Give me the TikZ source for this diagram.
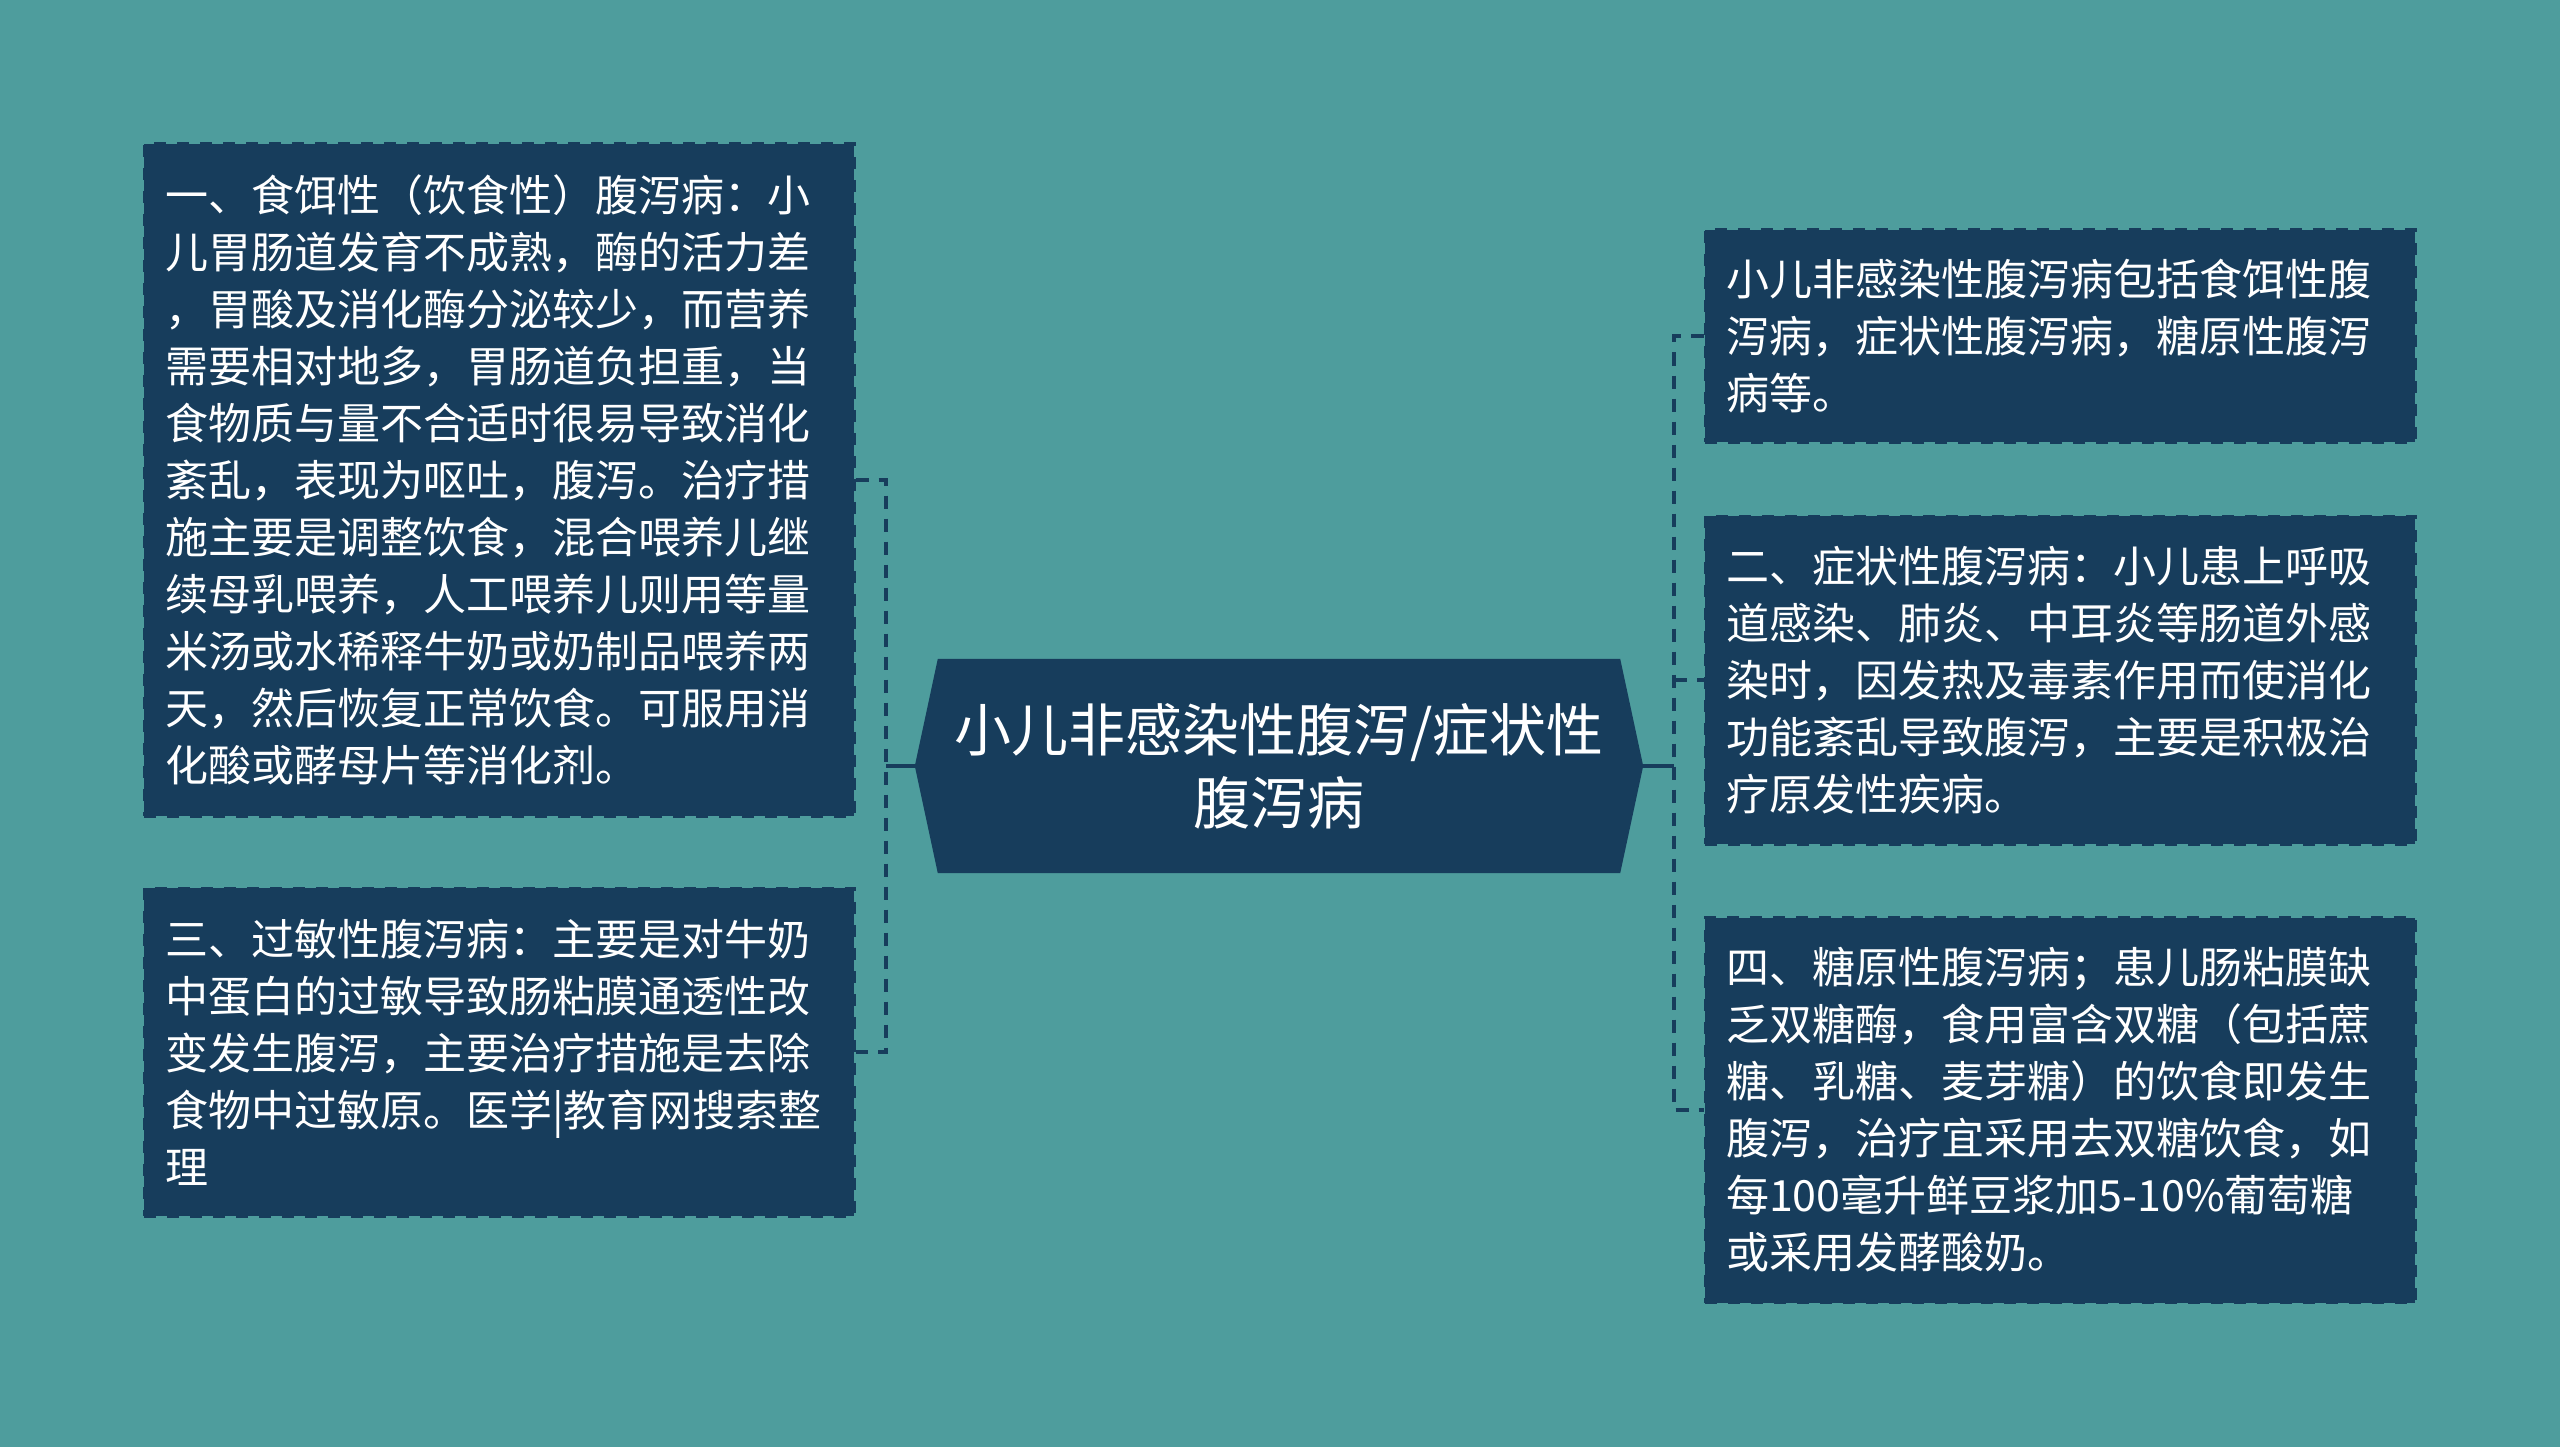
\documentclass[tikz,border=0pt]{standalone}
\usepackage{fontspec}
\setmainfont{Noto Sans CJK SC}
\usepackage{xcolor}
\usetikzlibrary{backgrounds}
\definecolor{bgteal}{RGB}{78,157,157}
\definecolor{navy}{RGB}{23,61,92}

\begin{document}
\begin{tikzpicture}[
        x=1pt, y=-1pt,
        box/.style={rectangle, fill=navy, draw=navy, line width=3pt, dash pattern=on 12pt off 11pt, text=white, align=left, inner xsep=21pt, inner ysep=0pt, text width=668pt, font=\fontsize{43}{57}\selectfont},
        hub/.style={rectangle, text=white, align=center, inner sep=0pt, minimum width=682pt, minimum height=214pt, font=\fontsize{57}{73}\selectfont},
        dashlink/.style={navy, line width=4.5pt, dash pattern=on 13pt off 10pt},
        link/.style={navy, line width=4.5pt}
    ]
        % Background
        \useasboundingbox (0,0) rectangle (2560,1447);
        \begin{scope}[on background layer]
            \fill[bgteal] (0,0) rectangle (2560,1447);
        \end{scope}

        % Central topic
        \node[hub] (hub) at (1279,766) {小儿非感染性腹泻/症状性\\腹泻病};
        \coordinate (hubW) at ([xshift=-23pt]hub.west);
        \coordinate (hubE) at ([xshift=23pt]hub.east);
        \begin{scope}[on background layer]
            \fill[navy] (hub.north west) -- (hub.north east) -- (hubE) -- (hub.south east) -- (hub.south west) -- (hubW) -- cycle;
        \end{scope}

        % Left branches
        \node[box, minimum height=672pt] (diet) at (499,480) {一、食饵性（饮食性）腹泻病：小\\儿胃肠道发育不成熟，酶的活力差\\，胃酸及消化酶分泌较少，而营养\\需要相对地多，胃肠道负担重，当\\食物质与量不合适时很易导致消化\\紊乱，表现为呕吐，腹泻。治疗措\\施主要是调整饮食，混合喂养儿继\\续母乳喂养，人工喂养儿则用等量\\米汤或水稀释牛奶或奶制品喂养两\\天，然后恢复正常饮食。可服用消\\化酸或酵母片等消化剂。};
        \node[box, minimum height=328pt] (allergy) at (499,1052) {三、过敏性腹泻病：主要是对牛奶\\中蛋白的过敏导致肠粘膜通透性改\\变发生腹泻，主要治疗措施是去除\\食物中过敏原。医学|教育网搜索整\\理};

        % Right branches
        \node[box, minimum height=212pt] (intro) at (2060,336) {小儿非感染性腹泻病包括食饵性腹\\泻病，症状性腹泻病，糖原性腹泻\\病等。};
        \node[box, minimum height=328pt] (symptom) at (2060,680) {二、症状性腹泻病：小儿患上呼吸\\道感染、肺炎、中耳炎等肠道外感\\染时，因发热及毒素作用而使消化\\功能紊乱导致腹泻，主要是积极治\\疗原发性疾病。};
        \node[box, minimum height=385pt] (sugar) at (2060,1110) {四、糖原性腹泻病；患儿肠粘膜缺\\乏双糖酶，食用富含双糖（包括蔗\\糖、乳糖、麦芽糖）的饮食即发生\\腹泻，治疗宜采用去双糖饮食，如\\每100毫升鲜豆浆加5-10\%葡萄糖\\或采用发酵酸奶。};

        % Connectors
        \coordinate (jl) at (886,766);
        \coordinate (jr) at (1674,766);
        \draw[dashlink] (diet.east) -| (jl) |- (allergy.east);
        \draw[link] (hubW) -- (jl);
        \draw[dashlink] (intro.west) -| (jr) |- (sugar.west);
        \draw[dashlink] (jr |- symptom.west) -- (symptom.west);
        \draw[link] (hubE) -- (jr);

    \end{tikzpicture}
\end{document}
